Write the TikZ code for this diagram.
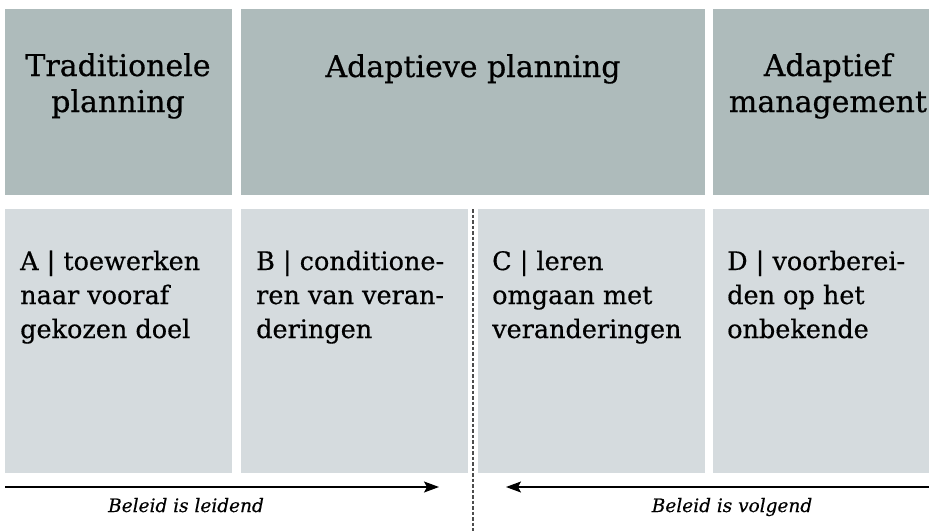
\documentclass[tikz,border=0pt]{standalone}
\usepackage{fontspec}
\setmainfont{DejaVu Serif}[FakeBold=0.5]
\usetikzlibrary{arrows.meta}
\definecolor{topgray}{HTML}{AEBBBB}
\definecolor{botgray}{HTML}{D5DBDE}
\begin{document}
\begin{tikzpicture}[x=1pt,y=-1pt,
  topbox/.style={fill=topgray,draw=none},
  botbox/.style={fill=botgray,draw=none},
  head/.style={align=center,font=\fontsize{30}{36}\selectfont,inner sep=0pt,anchor=base},
  body/.style={align=left,font=\fontsize{25.5}{34}\selectfont,inner sep=0pt,anchor=base west},
  note/.style={font=\itshape\fontsize{18.5}{20}\selectfont,inner sep=0pt,anchor=base},
  arr/.style={-{Stealth[length=15pt,width=11pt,inset=3pt]},line width=1.2pt}]
\useasboundingbox (0,0) rectangle (929,531);
% top row
\fill[topbox] (5,9) rectangle (232,195);
\fill[topbox] (241,9) rectangle (705,195);
\fill[topbox] (713,9) rectangle (929,195);
\node[head] (h1) at (118,112) {Traditionele\\planning};
\node[head] (h2) at (473,77) {Adaptieve planning};
\node[head] (h3) at (828,112) {Adaptief\\management};
% bottom row
\fill[botbox] (5,209) rectangle (232,473);
\fill[botbox] (241,209) rectangle (468,473);
\fill[botbox] (478,209) rectangle (705,473);
\fill[botbox] (713,209) rectangle (929,473);
\node[body] (a) at (20,338) {A | toewerken\\naar vooraf\\gekozen doel};
\node[body] (b) at (256,338) {B | conditione-\\ren van veran-\\deringen};
\node[body] (c) at (492,338) {C | leren\\omgaan met\\veranderingen};
\node[body] (d) at (727,338) {D | voorberei-\\den op het\\onbekende};
% dashed divider
\coordinate (dtop) at (473,209);
\coordinate (dbot) at (473,531);
\draw[dash pattern=on 3.5pt off 2pt,line width=1.5pt,black!70] (dtop) -- (dbot);
% arrows
\coordinate (l0) at (5,487);
\coordinate (l1) at (439,487);
\coordinate (r0) at (929,487);
\coordinate (r1) at (506,487);
\draw[arr] (l0) -- (l1);
\draw[arr] (r0) -- (r1);
\node[note] (nl) at (186,512) {Beleid is leidend};
\node[note] (nr) at (732,512) {Beleid is volgend};
\end{tikzpicture}
\end{document}
